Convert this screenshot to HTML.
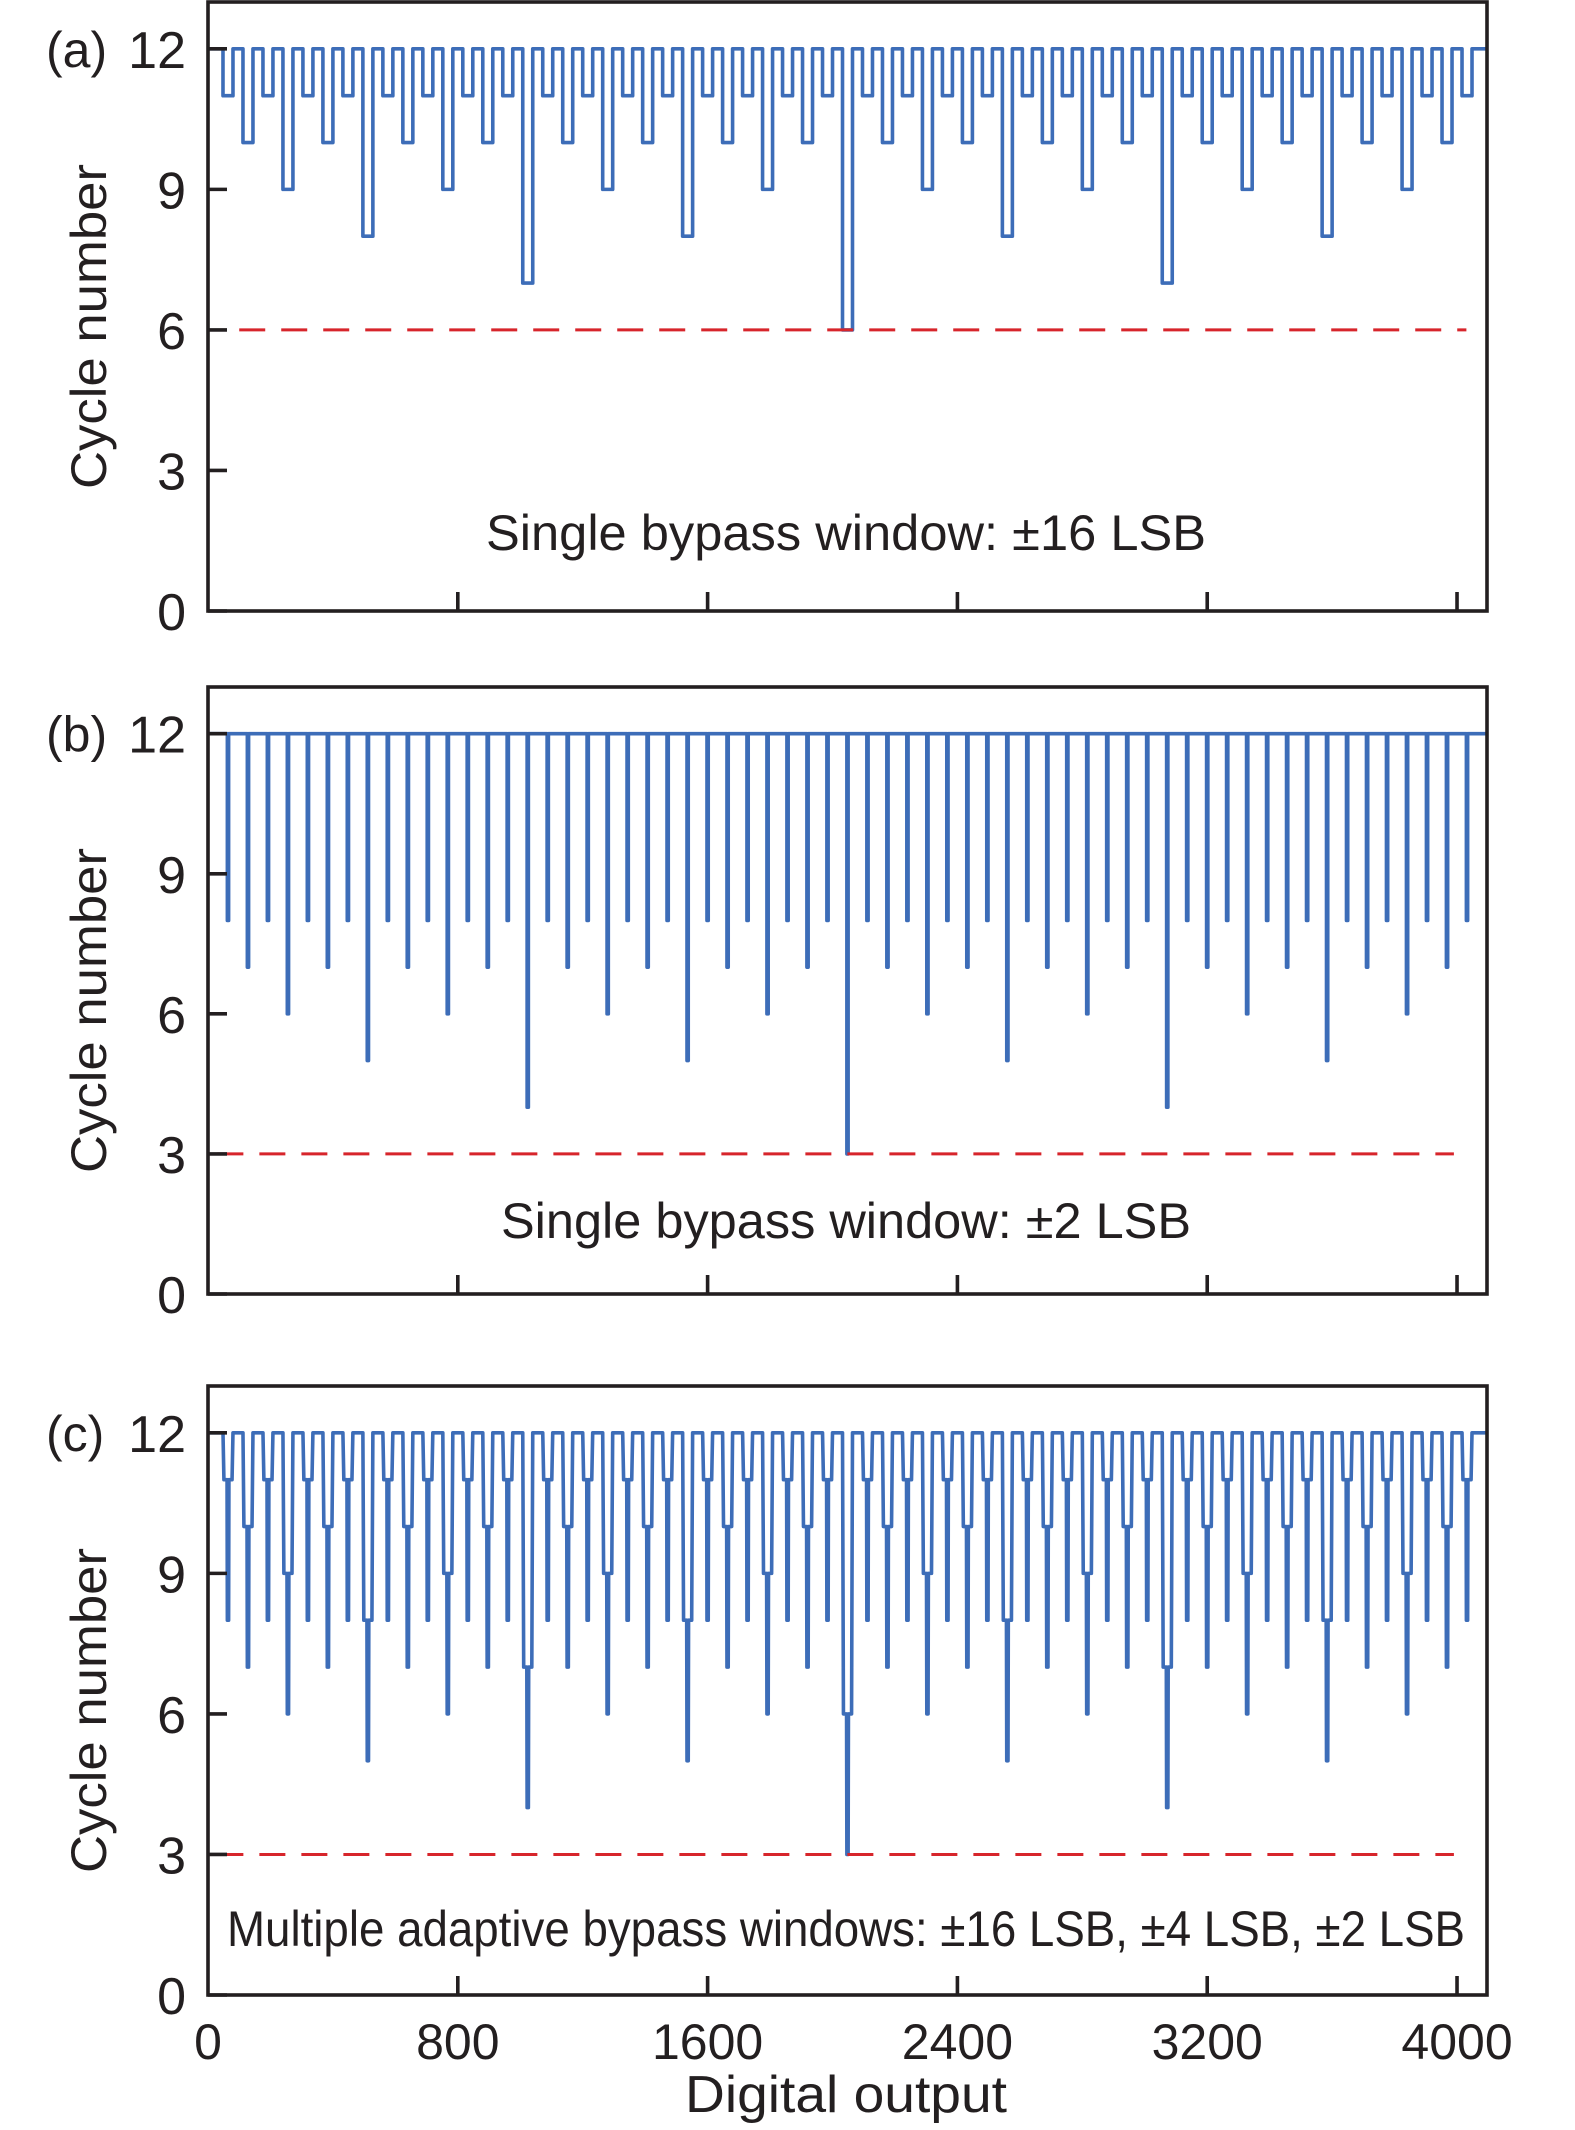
<!DOCTYPE html>
<html><head><meta charset="utf-8"><style>
html,body{margin:0;padding:0;background:#fff;}
svg{display:block;font-family:"Liberation Sans",sans-serif;}
</style></head><body>
<svg id="fig" width="1575" height="2130" viewBox="0 0 1575 2130" xmlns="http://www.w3.org/2000/svg"></svg>
<script>
const xTicks=[0,800,1600,2400,3200,4000];
const yTicks=[0,3,6,9,12];
const dipCodes=[64,128,192,256,320,384,448,512,576,640,704,768,832,896,960,1024,1088,1152,1216,1280,1344,1408,1472,1536,1600,1664,1728,1792,1856,1920,1984,2048,2112,2176,2240,2304,2368,2432,2496,2560,2624,2688,2752,2816,2880,2944,3008,3072,3136,3200,3264,3328,3392,3456,3520,3584,3648,3712,3776,3840,3904,3968,4032];
const aValues=[11,10,11,9,11,10,11,8,11,10,11,9,11,10,11,7,11,10,11,9,11,10,11,8,11,10,11,9,11,10,11,6,11,10,11,9,11,10,11,8,11,10,11,9,11,10,11,7,11,10,11,9,11,10,11,8,11,10,11,9,11,10,11];
const bValues=[8,7,8,6,8,7,8,5,8,7,8,6,8,7,8,4,8,7,8,6,8,7,8,5,8,7,8,6,8,7,8,3,8,7,8,6,8,7,8,5,8,7,8,6,8,7,8,4,8,7,8,6,8,7,8,5,8,7,8,6,8,7,8];
const cOuter=aValues.slice();
const cInner=bValues.slice();
const thresholds=[6,3,3];
const annotations=["Single bypass window: \u00b116 LSB","Single bypass window: \u00b12 LSB","Multiple adaptive bypass windows: \u00b116 LSB, \u00b14 LSB, \u00b12 LSB"];

const NS="http://www.w3.org/2000/svg";
const svg=document.getElementById('fig');
function mk(tag,attrs,parent){const e=document.createElementNS(NS,tag);for(const k in attrs)e.setAttribute(k,attrs[k]);(parent||svg).appendChild(e);return e;}
const X0=208,X1=1487,XMAX=4096;
const panels=[{top:2,bottom:611,label:"(a)",annY:550,annW:720},{top:687,bottom:1294,label:"(b)",annY:1238,annW:690},{top:1386,bottom:1995,label:"(c)",annY:1946,annW:1238}];
const YMAX=13;
function xs(v){return X0+(X1-X0)*v/XMAX;}
panels.forEach((p,i)=>{
  const g=mk('g',{});
  
  
  const ys=v=>p.bottom-(p.bottom-p.top)*v/YMAX;
  let d="M"+xs(0)+","+ys(12);
  for(let k=0;k<dipCodes.length;k++){
    const c=dipCodes[k];
    if(i===0){
      d+=" L"+xs(c-16)+","+ys(12)+" L"+xs(c-16)+","+ys(aValues[k])+" L"+xs(c+16)+","+ys(aValues[k])+" L"+xs(c+16)+","+ys(12);
    }else if(i===1){
      d+=" L"+xs(c-2)+","+ys(12)+" L"+xs(c-2)+","+ys(bValues[k])+" L"+xs(c+2)+","+ys(bValues[k])+" L"+xs(c+2)+","+ys(12);
    }else{
      d+=" L"+xs(c-16)+","+ys(12)+" L"+xs(c-13)+","+ys(cOuter[k])+" L"+xs(c-3)+","+ys(cOuter[k])+" L"+xs(c-2)+","+ys(cInner[k])+" L"+xs(c+2)+","+ys(cInner[k])+" L"+xs(c+3)+","+ys(cOuter[k])+" L"+xs(c+13)+","+ys(cOuter[k])+" L"+xs(c+16)+","+ys(12);
    }
  }
  d+=" L"+xs(4096)+","+ys(12);
  const s=mk('path',{d:d,fill:'none',stroke:'#3d6db8','stroke-width':3.6,'stroke-linejoin':'round'},g);
  
  
  const x0=i===0?xs(100):xs(30), x1e=i===0?xs(4030):xs(3990);
  const th=mk('line',{x1:x0,x2:x1e,y1:ys(thresholds[i]),y2:ys(thresholds[i]),stroke:'#d7252b','stroke-width':3,'stroke-dasharray':'26 16'},g);
  
  
  const fr=mk('rect',{x:X0,y:p.top,width:X1-X0,height:p.bottom-p.top,fill:'none',stroke:'#231f20','stroke-width':3.6},g);
  
  
  yTicks.forEach(v=>{
    const t=mk('line',{x1:X0,x2:X0+19,y1:ys(v),y2:ys(v),stroke:'#231f20','stroke-width':3.6},g);
    
    
    const tl=mk('text',{x:186,y:ys(v)+19,'text-anchor':'end','font-size':52,fill:'#231f20'},g);
    tl.textContent=v;
    
    
  });
  xTicks.forEach(v=>{
    if(v===0)return;
    const t=mk('line',{x1:xs(v),x2:xs(v),y1:p.bottom,y2:p.bottom-19,stroke:'#231f20','stroke-width':3.6},g);
    
    
  });
  const lab=mk('text',{x:46,y:ys(12)+18,'font-size':50,fill:'#231f20'},g);
  lab.textContent=p.label;
  
  
  const cy=(p.top+p.bottom)/2+20;
  const yt=mk('text',{x:0,y:0,'text-anchor':'middle','font-size':50,fill:'#231f20',transform:'translate(106,'+cy+') rotate(-90)',textLength:325,lengthAdjust:'spacingAndGlyphs'},g);
  yt.textContent="Cycle number";
  
  
  const an=mk('text',{x:846,y:p.annY,'text-anchor':'middle','font-size':50,fill:'#231f20',textLength:p.annW,lengthAdjust:'spacingAndGlyphs'},g);
  an.textContent=annotations[i];
  
  
});
xTicks.forEach(v=>{
  const t=mk('text',{x:xs(v),y:2059,'text-anchor':'middle','font-size':50,fill:'#231f20'});
  t.textContent=v;
  
  
});
const xt=mk('text',{x:846,y:2112,'text-anchor':'middle','font-size':52,fill:'#231f20',textLength:322,lengthAdjust:'spacingAndGlyphs'});
xt.textContent="Digital output";


</script>
</body></html>
